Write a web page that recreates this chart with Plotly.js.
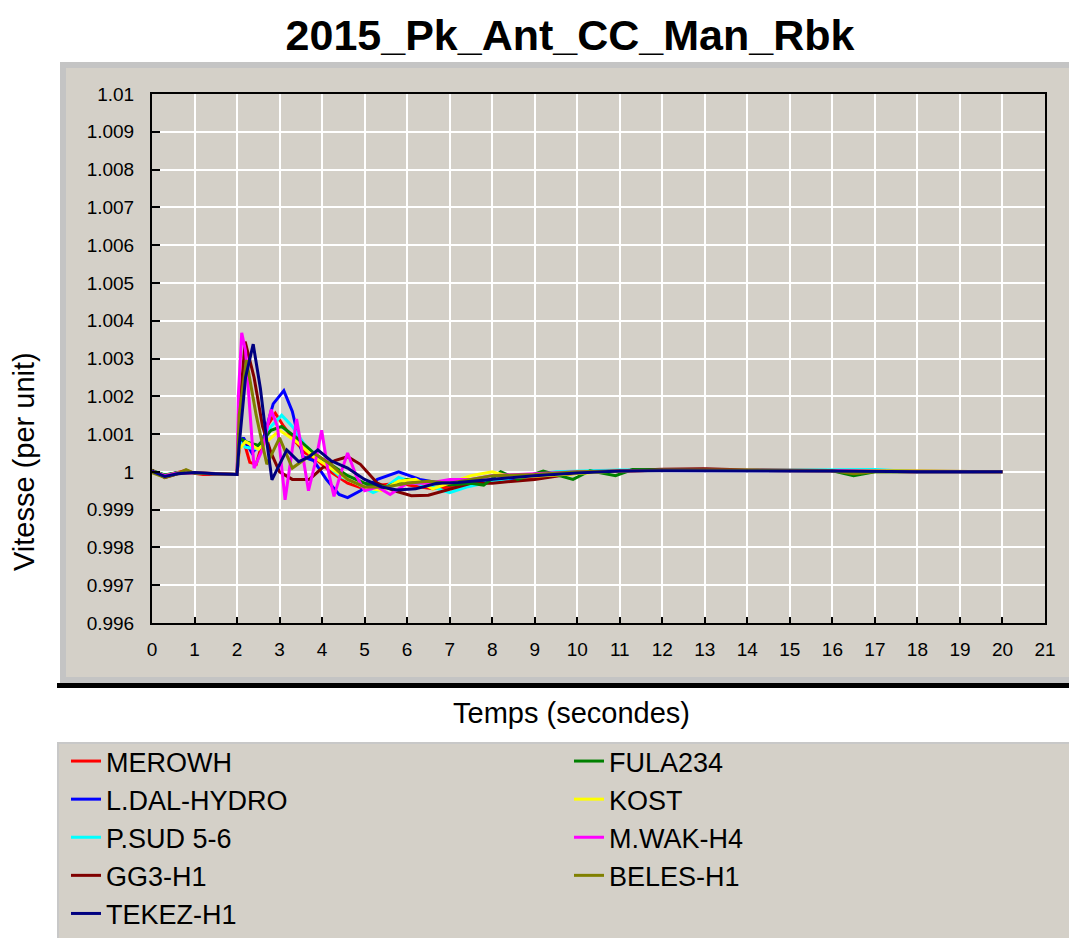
<!DOCTYPE html>
<html>
<head>
<meta charset="utf-8">
<script src="https://cdn.plot.ly/plotly-3.0.1.min.js"></script>
<style>
  html, body { margin: 0; padding: 0; background: #ffffff; }
  #chart { width: 1069px; height: 938px; }
</style>
</head>
<body>
<div id="chart"></div>
<script>
// ---- data ----
const seriesNames = ["MEROWH", "L.DAL-HYDRO", "P.SUD 5-6", "GG3-H1", "FULA234", "KOST", "M.WAK-H4", "BELES-H1", "TEKEZ-H1"];
const seriesColors = ["#ff0000", "#0000ff", "#00ffff", "#800000", "#008000", "#ffff00", "#ff00ff", "#808000", "#000080"];
const legendColumn = ["legend", "legend", "legend", "legend", "legend2", "legend2", "legend2", "legend2", "legend"];
const legendOrder = [1, 2, 3, 4, 1, 2, 3, 4, 5];

const tMerowh = [0,0.3,0.5,0.8,1.0,1.2,2.0,2.05,2.15,2.3,2.45,2.7,2.9,3.1,3.3,3.6,3.9,4.2,4.6,5.0,5.4,5.8,6.2,6.6,7.0,7.5,8.0,9.0,10,12,14,16,18,20];
const vMerowh = [1.00003,0.99988,0.99995,1.00004,0.99996,0.99993,0.99993,1.0006,1.00085,1.00025,1.0002,1.0012,1.00155,1.0012,1.0009,1.0005,1.0003,1.0,0.9997,0.99955,0.99965,0.9997,0.99962,0.99955,0.9996,0.99972,0.9998,0.99985,0.99998,1.00005,1.00004,1.00003,1.0,1.0];

const tLdal = [0,0.3,0.6,1,2,2.05,2.15,2.35,2.6,2.85,3.1,3.3,3.55,3.8,4.1,4.4,4.6,4.9,5.3,5.8,6.3,6.8,7.3,8,9,10,12,14,16,18,20];
const vLdal = [1.00002,0.9999,0.99998,0.99996,0.99993,1.0007,1.0009,1.0005,1.0008,1.0018,1.00215,1.0016,1.0004,1.0003,0.9998,0.9994,0.99932,0.9995,0.9998,1.0,0.9998,0.9997,0.9997,0.99978,0.99988,1.0,1.00005,1.00004,1.00003,1.0,1.0];

const tPsud = [0,0.3,0.6,1,2,2.05,2.2,2.5,2.8,3.05,3.3,3.6,4.0,4.4,4.8,5.2,5.5,5.8,6.2,6.6,7.0,7.4,7.8,8.5,9.5,11,13,15,17,18,20];
const vPsud = [1.00003,0.99992,0.99997,0.99997,0.99993,1.0008,1.00065,1.0006,1.0012,1.0015,1.0012,1.0007,1.0003,0.9999,0.9997,0.99945,0.9996,0.99985,0.9997,0.9996,0.99945,0.9996,0.9997,0.99985,1.0,1.00005,1.00005,1.00004,1.00006,1.0,1.0];

const tGg3 = [0,0.3,0.6,1,2,2.05,2.19,2.4,2.6,2.8,3.0,3.3,3.7,4.0,4.3,4.6,4.9,5.3,5.7,6.1,6.5,7.0,7.5,8.0,9.0,10,11,12,13,14,16,18,20];
const vGg3 = [1.00005,0.99985,0.99995,0.99998,0.99993,1.0015,1.00345,1.0025,1.0012,1.0005,1.0,0.9998,0.9998,1.0001,1.0003,1.0004,1.0002,0.9997,0.9995,0.99937,0.99938,0.99955,0.9997,0.9997,0.9998,0.99997,1.00003,1.00007,1.00008,1.00005,1.00003,1.0,1.0];

const tFula = [0,0.3,0.6,1,2,2.05,2.2,2.5,2.8,3.05,3.4,3.8,4.2,4.6,5.0,5.5,6.0,6.5,7.0,7.5,7.8,8.2,8.6,9.2,9.9,10.3,10.9,11.3,12,14,16,16.5,17,18,20];
const vFula = [1.00003,0.99992,0.99998,0.99997,0.99993,1.0009,1.0008,1.0007,1.0011,1.0012,1.0009,1.0005,1.0002,0.9999,0.9997,0.9996,0.9998,0.9997,0.99965,0.9997,0.99965,1.0,0.9998,1.00002,0.9998,1.00003,0.9999,1.00006,1.00005,1.00004,1.00003,0.9999,1.0,1.0,1.0];

const tKost = [0,0.3,0.6,1,2,2.05,2.2,2.5,2.8,3.0,3.4,3.8,4.2,4.6,5.0,5.4,5.8,6.2,6.6,7.0,7.5,8.0,8.5,9.5,11,14,17,20];
const vKost = [1.00002,0.9999,0.99997,0.99997,0.99993,1.0006,1.0008,1.0006,1.0009,1.0011,1.0008,1.0004,1.0001,0.9998,0.9996,0.9995,0.99975,0.9998,0.99955,0.9997,0.9999,1.0,0.99985,0.99992,1.00003,1.00004,1.00003,1.0];

const tMwak = [0,0.3,0.6,1,2,2.03,2.11,2.2,2.4,2.6,2.8,2.95,3.13,3.27,3.4,3.55,3.68,3.83,3.99,4.13,4.28,4.45,4.6,4.8,5.0,5.3,5.6,6.0,6.5,7.0,7.5,8,9,10,12,14,16,18,20];
const vMwak = [1.00002,0.9999,0.99997,0.99997,0.99993,1.002,1.00368,1.0032,1.0001,1.0006,1.00165,1.0012,0.99926,1.0004,1.0014,1.0004,0.9995,1.0002,1.0011,1.0001,0.99935,1.0,1.0005,0.9999,0.9995,0.9996,0.9994,0.9997,0.9997,0.9998,0.9998,0.9999,0.99995,1.0,1.00004,1.00004,1.00003,1.0,1.0];

const tBeles = [0,0.3,0.6,0.8,1,2,2.05,2.22,2.45,2.7,3.0,3.3,3.55,3.8,4.2,4.6,5.0,5.5,6.0,6.5,7.0,7.5,8,9,10,12,14,16,16.5,17,18,20];
const vBeles = [0.99998,0.99985,0.99995,1.00006,0.99996,0.99993,1.0015,1.00296,1.0015,1.0002,1.0009,1.0001,1.0003,1.0005,1.0002,0.9998,0.9996,0.9996,0.9997,0.99975,0.9997,0.9998,0.9999,0.99993,1.0,1.00004,1.00004,1.00003,0.99995,1.0,1.0,1.0];

const tTekez = [0,0.3,0.6,1,1.5,2,2.05,2.2,2.38,2.55,2.7,2.82,3.0,3.17,3.45,3.7,3.9,4.2,4.6,5.0,5.4,5.76,6.2,6.7,7.2,8.0,9.0,10,11,12,14,16,18,20];
const vTekez = [1.00002,0.99988,0.99995,0.99998,0.99995,0.99993,1.0007,1.0025,1.00338,1.0022,1.0008,0.99979,1.0002,1.00058,1.00027,1.0004,1.00058,1.0003,1.0001,0.9998,0.9996,0.99952,0.99955,0.9997,0.99972,0.9998,0.9999,0.99997,1.00002,1.00003,1.00003,1.00002,1.0,1.0];

const xTickVals = [0,1,2,3,4,5,6,7,8,9,10,11,12,13,14,15,16,17,18,19,20,21];
const yTickVals = [0.996,0.997,0.998,0.999,1.0,1.001,1.002,1.003,1.004,1.005,1.006,1.007,1.008,1.009,1.01];
const yTickText = ["0.996","0.997","0.998","0.999","1","1.001","1.002","1.003","1.004","1.005","1.006","1.007","1.008","1.009","1.01"];

const chartTitle = "2015_Pk_Ant_CC_Man_Rbk";
const xTitle = "Temps (secondes)";
const yTitle = "Vitesse (per unit)";

// ---- build traces ----
const times = [tMerowh, tLdal, tPsud, tGg3, tFula, tKost, tMwak, tBeles, tTekez];
const values = [vMerowh, vLdal, vPsud, vGg3, vFula, vKost, vMwak, vBeles, vTekez];

const traces = seriesNames.map((name, i) => ({
  type: "scatter",
  mode: "lines",
  name: name,
  x: times[i],
  y: values[i],
  line: { color: seriesColors[i], width: 3 },
  legend: legendColumn[i],
  legendrank: legendOrder[i],
  hoverinfo: "x+y+name"
}));

// ---- layout ----
const W = 1069, H = 938;
const mL = 152, mR = 24, mT = 94, mB = 315;
const pw = W - mL - mR, ph = H - mT - mB;
const px = v => (v - mL) / pw;            // page x px -> paper
const py = v => (H - mB - v) / ph;        // page y px -> paper

const panelBg = "#d4d0c8";
const shapes = [
  { type: "rect", xref: "paper", yref: "paper", layer: "below",
    x0: px(60), x1: px(1069), y0: py(683), y1: py(62),
    fillcolor: "#c4c4c4", line: { width: 0 } },
  { type: "rect", xref: "paper", yref: "paper", layer: "below",
    x0: px(66), x1: px(1069), y0: py(677), y1: py(68),
    fillcolor: panelBg, line: { width: 0 } },
  { type: "rect", xref: "paper", yref: "paper", layer: "below",
    x0: px(57), x1: px(1069), y0: py(688), y1: py(683),
    fillcolor: "#000000", line: { width: 0 } },
  { type: "rect", xref: "paper", yref: "paper", layer: "below",
    x0: px(57), x1: px(1069), y0: py(938), y1: py(742),
    fillcolor: "#c8c8c8", line: { width: 0 } },
  { type: "rect", xref: "paper", yref: "paper", layer: "below",
    x0: px(59), x1: px(1069), y0: py(938), y1: py(744),
    fillcolor: panelBg, line: { width: 0 } }
];

const font = "Liberation Sans, Arial, sans-serif";
const legendBase = {
  orientation: "v",
  xanchor: "left",
  yanchor: "top",
  bgcolor: "rgba(0,0,0,0)",
  borderwidth: 0,
  font: { family: font, size: 27, color: "#000000" },
  itemwidth: 30,
  traceorder: "normal",
  tracegroupgap: 0
};

const layout = {
  width: W, height: H,
  margin: { l: mL, r: mR, t: mT, b: mB, pad: 0, autoexpand: false },
  paper_bgcolor: "#ffffff",
  plot_bgcolor: panelBg,
  font: { family: font, color: "#000000" },
  title: {
    text: chartTitle,
    font: { family: font, size: 43, weight: "bold", color: "#000000" },
    x: 570 / W, xanchor: "center",
    y: 1 - 35 / H, yanchor: "middle",
    xref: "container", yref: "container"
  },
  showlegend: true,
  legend: Object.assign({}, legendBase, { x: px(66), y: py(737) }),
  legend2: Object.assign({}, legendBase, { x: px(569), y: py(737) }),
  xaxis: {
    range: [0, 21],
    tickvals: xTickVals,
    ticks: "inside", ticklen: 6, tickwidth: 2, tickcolor: "#000000",
    tickfont: { family: font, size: 19, color: "#000000" },
    ticklabelstandoff: 8,
    showline: true, linecolor: "#000000", linewidth: 2, mirror: true,
    showgrid: true, gridcolor: "#ffffff", gridwidth: 2,
    zeroline: false,
    fixedrange: true
  },
  yaxis: {
    range: [0.996, 1.01],
    tickvals: yTickVals,
    ticktext: yTickText,
    ticks: "inside", ticklen: 8, tickwidth: 2, tickcolor: "#000000",
    tickfont: { family: font, size: 19, color: "#000000" },
    ticklabelstandoff: 12,
    showline: true, linecolor: "#000000", linewidth: 2, mirror: true,
    showgrid: true, gridcolor: "#ffffff", gridwidth: 2,
    zeroline: false,
    fixedrange: true
  },
  annotations: [
    { text: xTitle, xref: "paper", yref: "paper", x: px(571), y: py(713),
      xanchor: "center", yanchor: "middle", showarrow: false,
      font: { family: font, size: 29, color: "#000000" } },
    { text: yTitle, xref: "paper", yref: "paper", x: px(24), y: py(462),
      xanchor: "center", yanchor: "middle", showarrow: false, textangle: -90,
      font: { family: font, size: 29, color: "#000000" } }
  ],
  shapes: shapes
};

Plotly.newPlot("chart", traces, layout, { displayModeBar: false, responsive: false });
</script>
</body>
</html>
